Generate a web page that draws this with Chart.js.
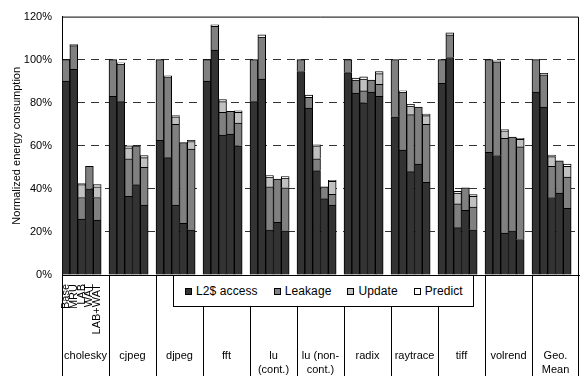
<!DOCTYPE html>
<html>
<head>
<meta charset="utf-8">
<script src="https://cdn.jsdelivr.net/npm/chart.js@4.4.1/dist/chart.umd.min.js"></script>
<style>
  body { margin: 0; background: #fff; }
  #wrap { position: relative; width: 580px; height: 376px; font-family: "Liberation Sans", Arial, sans-serif; }
  #chart { position: absolute; left: 0; top: 0; }
  #legend {
    position: absolute; left: 173px; top: 275px; width: 301px; height: 32px;
    box-sizing: border-box; border: 1px solid #000; background: #fff;
    display: flex; align-items: center; padding-left: 11px; gap: 16px;
    font-size: 12px; letter-spacing: 0.1px; color: #000; white-space: nowrap;
  }
  .item { display: flex; align-items: center; gap: 4px; flex: none; }
  .sw { width: 5px; height: 5px; border: 1px solid #000; }
</style>
</head>
<body>
<div id="wrap">
  <canvas id="chart" width="580" height="376"></canvas>
  <div id="legend"></div>
</div>
<script>
// Benchmarks (groups) and the five cache configurations in each group
const categories = ['cholesky', 'cjpeg', 'djpeg', 'fft', ['lu', '(cont.)'], ['lu (non-', 'cont.)'],
  'radix', 'raytrace', 'tiff', 'volrend', ['Geo.', 'Mean']];
const configs = ['Base', 'MRU', 'LAB', 'WAT', 'LAB+WAT'];
const yTicks = [0, 20, 40, 60, 80, 100, 120];

// one row per benchmark, one value per configuration (percent)
const l2Access = [
  [90, 95.5, 26, 40, 25.5],
  [83, 80.5, 36.5, 42, 32.5],
  [62.5, 54.5, 32.5, 24, 21],
  [90, 104.5, 65, 65.5, 60],
  [80.5, 91, 21, 24.5, 20.5],
  [94.5, 77.5, 48.5, 35.5, 32.5],
  [94, 84.5, 80, 85, 83],
  [73.5, 58, 48, 51.5, 43],
  [89, 101, 22, 30, 21],
  [57, 55.5, 19.5, 20.5, 16.5],
  [85, 78, 36, 38, 31]
];
const leakage = [
  [10, 11, 10, 10.5, 10.5],
  [17, 17.5, 17.5, 18, 17.5],
  [37.5, 37.5, 37.5, 37.5, 37.5],
  [10, 11, 10.5, 10.5, 10.5],
  [19.5, 19.5, 20, 20, 20],
  [5.5, 5, 5.5, 5.5, 5],
  [6, 6, 5.5, 5.5, 5.5],
  [26.5, 27, 26.5, 26.5, 27],
  [11, 10.5, 11, 10.5, 10.5],
  [43, 43.5, 44, 43.5, 43],
  [15, 15, 14.5, 15, 14.5]
];
const update = [
  [null, null, 6, null, 5],
  [null, null, 5, null, 4.5],
  [null, null, 3.5, null, 3.5],
  [null, null, 5, null, 5],
  [null, null, 4.5, null, 4.5],
  [null, null, 6, null, 6],
  [null, null, 5.5, null, 5],
  [null, null, 4, null, 4],
  [null, null, 5, null, 5],
  [null, null, 3.5, null, 3.5],
  [null, null, 4.5, null, 5]
];
const predict = [
  [null, 0.5, 0.5, null, 1],
  [null, 0.5, 1, null, 1],
  [null, 0.5, 0.5, null, 0.5],
  [null, 0.7, 1, null, 0.7],
  [null, 1, 0.7, null, 0.7],
  [null, 1, 0.5, null, 0.5],
  [null, 1, 1, null, 1],
  [null, 0.5, 0.8, null, 0.7],
  [null, 1, 0.8, null, 0.8],
  [null, 0.5, 0.5, null, 0.5],
  [null, 0.7, 0.7, null, 1]
];

const seriesNames = ['L2$ access', 'Leakage', 'Update', 'Predict'];
const seriesData = [l2Access, leakage, update, predict];
const seriesColors = ['#333333', '#808080', '#c0c0c0', '#ffffff'];

// 6 slots per group: 5 bars + one empty slot as the gap
const SLOTS = configs.length + 1;
const labels = [];
categories.forEach((c, g) => {
  for (let k = 0; k < SLOTS; k++) labels.push(k < configs.length ? configs[k] : '');
});
function flatten(rows) {
  const out = [];
  rows.forEach(r => {
    r.forEach(v => out.push(v));
    out.push(null);
  });
  return out;
}

const FONT = '"Liberation Sans", Arial, sans-serif';

// frame + category table under the x axis
const tablePlugin = {
  id: 'table',
  afterDraw(chart) {
    const ctx = chart.ctx;
    const area = chart.chartArea;
    const x = chart.scales.x;
    const slot = (x.right - x.left) / labels.length;
    const H = chart.height;
    ctx.save();
    ctx.strokeStyle = '#000';
    ctx.lineWidth = 1;
    ctx.beginPath();
    ctx.moveTo(area.left, area.top + 0.5);
    ctx.lineTo(area.right - 0.5, area.top + 0.5);
    ctx.lineTo(area.right - 0.5, area.bottom);
    ctx.stroke();

    for (let g = 0; g <= categories.length; g++) {
      let px = Math.round(x.left + g * SLOTS * slot) + 0.5;
      if (g === categories.length) px = Math.round(x.right) - 0.5;
      ctx.beginPath();
      ctx.moveTo(px, area.bottom);
      ctx.lineTo(px, H);
      ctx.stroke();
    }

    ctx.fillStyle = '#000';
    ctx.font = '11px ' + FONT;
    ctx.textAlign = 'center';
    ctx.textBaseline = 'middle';
    categories.forEach((c, g) => {
      const cx = x.left + (g * SLOTS + SLOTS / 2) * slot;
      const lines = Array.isArray(c) ? c : [c];
      lines.forEach((t, i) => ctx.fillText(t, cx, 356 + i * 14));
    });

    // rotated configuration names below the first group
    ctx.font = '11px ' + FONT;
    configs.forEach((c, k) => {
      const cx = x.getPixelForValue(k);
      ctx.save();
      ctx.translate(cx, area.bottom + 9);
      ctx.rotate(-Math.PI / 2);
      ctx.textAlign = 'right';
      ctx.fillText(c, 0, 0);
      ctx.restore();
    });
    ctx.restore();
  }
};

new Chart(document.getElementById('chart'), {
  type: 'bar',
  data: {
    labels: labels,
    datasets: seriesNames.map((name, i) => ({
      label: name,
      data: flatten(seriesData[i]),
      backgroundColor: seriesColors[i],
      borderColor: '#000',
      borderWidth: 1,
      barPercentage: 1,
      categoryPercentage: 1
    }))
  },
  options: {
    responsive: false,
    animation: false,
    devicePixelRatio: 1,
    layout: { padding: { top: 13, right: 1, left: 0, bottom: 0 } },
    plugins: { legend: { display: false }, tooltip: { enabled: false } },
    scales: {
      x: {
        stacked: true,
        ticks: { display: false },
        grid: { display: false },
        border: { display: true, color: '#000', width: 1 },
        afterFit(scale) { scale.height = 101; }
      },
      y: {
        stacked: true,
        min: 0,
        max: 120,
        afterBuildTicks(scale) { scale.ticks = yTicks.map(v => ({ value: v })); },
        ticks: {
          callback: v => v + '%',
          color: '#000',
          padding: 10,
          font: { family: FONT, size: 11 }
        },
        grid: {
          drawTicks: false,
          color: c => (c.tick && (c.tick.value === 0 || c.tick.value === 120)) ? 'rgba(0,0,0,0)' : '#333',
          lineWidth: 1
        },
        border: { display: true, color: '#000', width: 1, dash: [8, 6] },
        title: {
          display: true,
          text: 'Normalized energy consumption',
          color: '#000',
          font: { family: FONT, size: 11 },
          padding: { top: 10, bottom: 0 }
        },
        afterFit(scale) { scale.width = 62; }
      }
    }
  },
  plugins: [tablePlugin]
});

// legend box
const legend = document.getElementById('legend');
seriesNames.forEach((name, i) => {
  const item = document.createElement('div');
  item.className = 'item';
  const sw = document.createElement('span');
  sw.className = 'sw';
  sw.style.background = seriesColors[i];
  const t = document.createElement('span');
  t.textContent = name;
  item.appendChild(sw);
  item.appendChild(t);
  legend.appendChild(item);
});
</script>
</body>
</html>
